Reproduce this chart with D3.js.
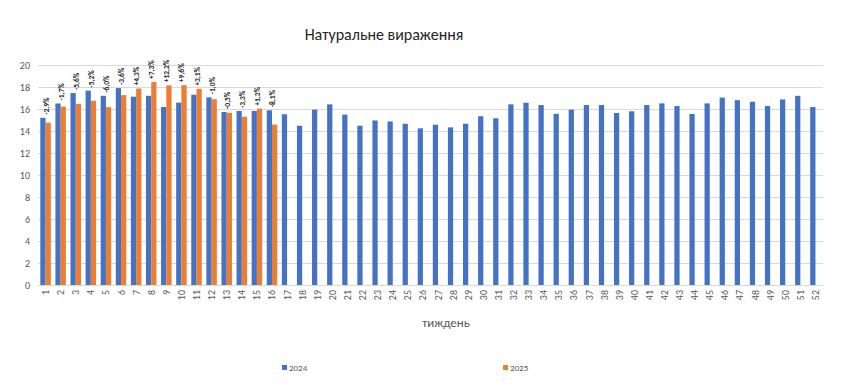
<!DOCTYPE html>
<html>
<head>
<meta charset="utf-8">
<script src="https://cdn.jsdelivr.net/npm/d3@7"></script>
<style>
  body { margin: 0; background: #fff; }
  text { font-family: Calibri, Carlito, "Liberation Sans", Arial, sans-serif; }
</style>
</head>
<body>
<div id="chart"></div>
<script>
// Define SVG area dimensions
var svgWidth = 850;
var svgHeight = 386;

// week numbers 1..52
var weeks = ["1","2","3","4","5","6","7","8","9","10","11","12","13","14","15","16","17","18","19","20",
  "21","22","23","24","25","26","27","28","29","30","31","32","33","34","35","36","37","38","39","40",
  "41","42","43","44","45","46","47","48","49","50","51","52"];

var series = ["2024", "2025"];

var values2024 = [15.2, 16.5, 17.45, 17.67, 17.2, 17.9, 17.12, 17.2, 16.18, 16.58, 17.3, 17.06, 15.73, 15.82, 15.82, 15.88,
  15.52, 14.48, 15.94, 16.42, 15.49, 14.48, 14.96, 14.87, 14.66, 14.24, 14.57, 14.33, 14.66, 15.34, 15.16, 16.42,
  16.57, 16.36, 15.56, 15.94, 16.36, 16.36, 15.64, 15.79, 16.36, 16.51, 16.27, 15.55, 16.51, 17.04, 16.8, 16.66,
  16.27, 16.87, 17.2, 16.18];

var values2025 = [14.75, 16.22, 16.47, 16.75, 16.17, 17.26, 17.86, 18.45, 18.15, 18.17, 17.84, 16.89, 15.65, 15.3, 16.03, 14.59];

var changeLabels = ["-2,9%", "-1,7%", "-5,6%", "-5,2%", "-6,0%", "-3,6%", "+4,3%", "+7,3%", "+12,2%", "+9,6%",
  "+3,1%", "-1,0%", "-0,5%", "-3,3%", "+1,3%", "-8,1%"];

var yTicks = [0, 2, 4, 6, 8, 10, 12, 14, 16, 18, 20];

var colors = { "2024": "#4472C4", "2025": "#ED7D31" };

// plot area
var plot = { left: 38, right: 823, top: 65, bottom: 285 };

var svg = d3.select("#chart")
  .append("svg")
  .attr("width", svgWidth)
  .attr("height", svgHeight);

var xScale = d3.scaleBand()
  .domain(weeks)
  .range([plot.left, plot.right]);

var xInner = d3.scaleBand()
  .domain(series)
  .range([0, xScale.bandwidth()])
  .paddingInner(0)
  .paddingOuter(0.44);

var yScale = d3.scaleLinear()
  .domain([0, 20])
  .range([plot.bottom, plot.top]);

// title
svg.append("text")
  .attr("x", 384)
  .attr("y", 40)
  .attr("text-anchor", "middle")
  .attr("font-size", 16)
  .attr("fill", "#262626")
  .text("Натуральне вираження");

// gridlines
svg.append("g")
  .selectAll("line")
  .data(yTicks)
  .enter()
  .append("line")
  .attr("x1", plot.left)
  .attr("x2", plot.right)
  .attr("y1", d => Math.round(yScale(d)) + 0.5)
  .attr("y2", d => Math.round(yScale(d)) + 0.5)
  .attr("stroke", "#d9d9d9")
  .attr("stroke-width", 1);

// y axis labels
var leftAxis = d3.axisLeft(yScale).tickValues(yTicks).tickSize(0).tickPadding(8);
var yAxis = svg.append("g")
  .attr("transform", `translate(${plot.left}, 0)`)
  .call(leftAxis);
yAxis.select(".domain").remove();
yAxis.selectAll("text")
  .attr("font-size", 10)
  .attr("fill", "#595959")
  .attr("font-family", "Calibri, Carlito, 'Liberation Sans', Arial, sans-serif");

// bars 2024
svg.append("g")
  .selectAll("rect")
  .data(values2024)
  .enter()
  .append("rect")
  .attr("x", (d, i) => xScale(weeks[i]) + xInner("2024"))
  .attr("y", d => yScale(d))
  .attr("width", xInner.bandwidth())
  .attr("height", d => yScale(0) - yScale(d))
  .attr("fill", colors["2024"]);

// bars 2025
svg.append("g")
  .selectAll("rect")
  .data(values2025)
  .enter()
  .append("rect")
  .attr("x", (d, i) => xScale(weeks[i]) + xInner("2025"))
  .attr("y", d => yScale(d))
  .attr("width", xInner.bandwidth())
  .attr("height", d => yScale(0) - yScale(d))
  .attr("fill", colors["2025"]);

// change labels, rotated, above the taller bar of each pair
svg.append("g")
  .selectAll("text")
  .data(changeLabels)
  .enter()
  .append("text")
  .attr("transform", (d, i) => {
    var cx = xScale(weeks[i]) + xScale.bandwidth() / 2 + 3;
    var top = yScale(Math.max(values2024[i], values2025[i])) - 3;
    return `translate(${cx}, ${top}) rotate(-90)`;
  })
  .attr("text-anchor", "start")
  .attr("font-size", 7.5)
  .attr("font-weight", "bold")
  .attr("fill", "#262626")
  .text(d => d);

// x axis
var bottomAxis = d3.axisBottom(xScale).tickSize(0).tickPadding(4);
var xAxis = svg.append("g")
  .attr("transform", `translate(0, ${plot.bottom})`)
  .call(bottomAxis);
xAxis.select(".domain").attr("stroke", "#d9d9d9");
xAxis.selectAll("text")
  .attr("font-size", 10)
  .attr("fill", "#595959")
  .attr("font-family", "Calibri, Carlito, 'Liberation Sans', Arial, sans-serif")
  .attr("transform", "rotate(-90)")
  .attr("text-anchor", "end")
  .attr("dy", "0.35em")
  .attr("x", -5)
  .attr("y", 0);

// x axis title
svg.append("text")
  .attr("x", 446)
  .attr("y", 327)
  .attr("text-anchor", "middle")
  .attr("font-size", 13)
  .attr("fill", "#595959")
  .text("тиждень");

// legend
var legendX = { "2024": 282, "2025": 503 };
var legend = svg.append("g");
series.forEach(function(s) {
  legend.append("rect")
    .attr("x", legendX[s])
    .attr("y", 365)
    .attr("width", 5)
    .attr("height", 5)
    .attr("fill", colors[s]);
  legend.append("text")
    .attr("x", legendX[s] + 7)
    .attr("y", 370.5)
    .attr("font-size", 9)
    .attr("fill", "#595959")
    .text(s);
});
</script>
</body>
</html>
